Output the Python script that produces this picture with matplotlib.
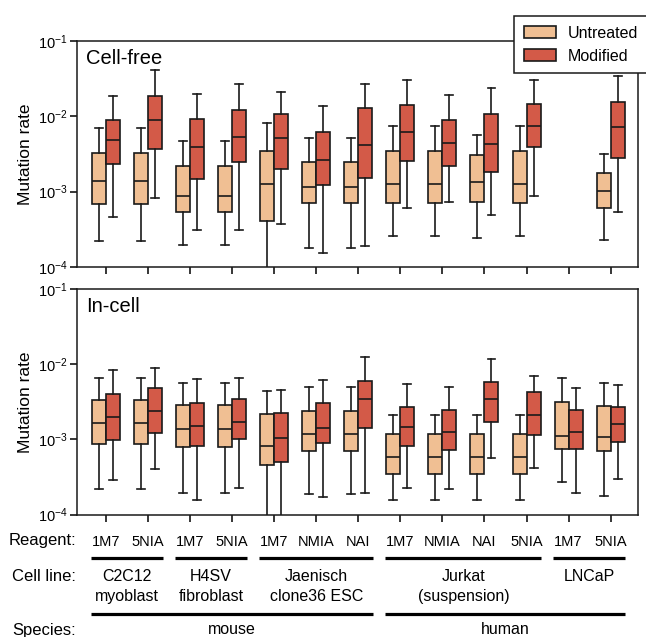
import matplotlib
matplotlib.use("Agg")
import matplotlib.pyplot as plt
import matplotlib.transforms as mtransforms
from matplotlib.lines import Line2D
from matplotlib.patches import Patch
from matplotlib.ticker import NullLocator

plt.rcParams['font.family'] = ['Liberation Sans', 'DejaVu Sans']

# x categories (one per reagent / cell line combination)
reagents = ['1M7', '5NIA', '1M7', '5NIA', '1M7', 'NMIA', 'NAI',
            '1M7', 'NMIA', 'NAI', '5NIA', '1M7', '5NIA']
cell_lines = ['C2C12\nmyoblast', 'H4SV\nfibroblast', 'Jaenisch\nclone36 ESC',
              'Jurkat\n(suspension)', 'LNCaP']
cell_line_spans = [(0, 1), (2, 3), (4, 6), (7, 10), (11, 12)]
species = ['mouse', 'human']
species_spans = [(0, 6), (7, 12)]

# box stats: (whisker low, q1, median, q3, whisker high)
cf_untreated = [
    (2.23e-4, 6.84e-4, 1.40e-3, 3.23e-3, 7.06e-3),
    (2.23e-4, 6.84e-4, 1.40e-3, 3.23e-3, 7.06e-3),
    (1.95e-4, 5.41e-4, 8.75e-4, 2.19e-3, 4.66e-3),
    (1.95e-4, 5.41e-4, 8.75e-4, 2.19e-3, 4.66e-3),
    (5.0e-5, 4.04e-4, 1.27e-3, 3.46e-3, 8.07e-3),
    (1.80e-4, 7.00e-4, 1.15e-3, 2.49e-3, 5.20e-3),
    (1.80e-4, 7.00e-4, 1.15e-3, 2.49e-3, 5.20e-3),
    (2.60e-4, 7.06e-4, 1.25e-3, 3.46e-3, 7.43e-3),
    (2.60e-4, 7.06e-4, 1.25e-3, 3.46e-3, 7.43e-3),
    (2.42e-4, 7.21e-4, 1.36e-3, 3.09e-3, 5.65e-3),
    (2.60e-4, 7.06e-4, 1.25e-3, 3.46e-3, 7.43e-3),
    None,
    (2.28e-4, 6.12e-4, 1.03e-3, 1.78e-3, 3.13e-3),
]
cf_modified = [
    (4.60e-4, 2.31e-3, 4.80e-3, 8.93e-3, 1.86e-2),
    (8.15e-4, 3.72e-3, 9.02e-3, 1.88e-2, 4.12e-2),
    (3.09e-4, 1.48e-3, 3.95e-3, 9.20e-3, 2.00e-2),
    (3.09e-4, 2.45e-3, 5.36e-3, 1.22e-2, 2.66e-2),
    (3.72e-4, 2.00e-3, 5.10e-3, 1.07e-2, 2.12e-2),
    (1.55e-4, 1.22e-3, 2.60e-3, 6.25e-3, 1.37e-2),
    (1.91e-4, 1.52e-3, 4.12e-3, 1.31e-2, 2.71e-2),
    (6.00e-4, 2.57e-3, 6.25e-3, 1.41e-2, 3.03e-2),
    (7.28e-4, 2.21e-3, 4.47e-3, 8.93e-3, 1.90e-2),
    (4.89e-4, 1.84e-3, 4.25e-3, 1.07e-2, 2.36e-2),
    (8.75e-4, 3.88e-3, 7.50e-3, 1.47e-2, 3.03e-2),
    None,
    (5.31e-4, 2.79e-3, 7.15e-3, 1.55e-2, 3.40e-2),
]
ic_untreated = [
    (2.17e-4, 8.63e-4, 1.63e-3, 3.33e-3, 6.45e-3),
    (2.17e-4, 8.63e-4, 1.63e-3, 3.33e-3, 6.45e-3),
    (1.94e-4, 7.96e-4, 1.38e-3, 2.88e-3, 5.60e-3),
    (1.94e-4, 7.96e-4, 1.38e-3, 2.88e-3, 5.60e-3),
    (5.0e-5, 4.49e-4, 8.27e-4, 2.17e-3, 4.43e-3),
    (1.85e-4, 6.97e-4, 1.16e-3, 2.38e-3, 4.91e-3),
    (1.85e-4, 6.97e-4, 1.16e-3, 2.38e-3, 4.91e-3),
    (1.58e-4, 3.44e-4, 5.79e-4, 1.16e-3, 2.08e-3),
    (1.58e-4, 3.44e-4, 5.79e-4, 1.16e-3, 2.08e-3),
    (1.58e-4, 3.44e-4, 5.79e-4, 1.16e-3, 2.08e-3),
    (1.58e-4, 3.44e-4, 5.79e-4, 1.16e-3, 2.08e-3),
    (2.72e-4, 7.33e-4, 1.10e-3, 3.10e-3, 6.53e-3),
    (1.77e-4, 6.97e-4, 1.07e-3, 2.80e-3, 5.66e-3),
]
ic_modified = [
    (2.86e-4, 9.87e-4, 1.98e-3, 4.00e-3, 8.34e-3),
    (4.00e-4, 1.23e-3, 2.35e-3, 4.75e-3, 8.98e-3),
    (1.58e-4, 8.20e-4, 1.50e-3, 3.06e-3, 6.40e-3),
    (2.28e-4, 1.01e-3, 1.71e-3, 3.43e-3, 6.59e-3),
    (5.0e-5, 4.97e-4, 1.05e-3, 2.21e-3, 4.57e-3),
    (1.73e-4, 9.00e-4, 1.41e-3, 3.01e-3, 6.08e-3),
    (1.96e-4, 1.41e-3, 3.40e-3, 6.00e-3, 1.24e-2),
    (2.22e-4, 8.20e-4, 1.48e-3, 2.71e-3, 5.38e-3),
    (2.19e-4, 7.11e-4, 1.25e-3, 2.47e-3, 4.91e-3),
    (5.62e-4, 1.68e-3, 3.43e-3, 5.71e-3, 1.17e-2),
    (4.18e-4, 1.15e-3, 2.10e-3, 4.21e-3, 6.95e-3),
    (1.96e-4, 7.55e-4, 1.25e-3, 2.47e-3, 4.81e-3),
    (3.01e-4, 9.08e-4, 1.59e-3, 2.71e-3, 5.27e-3),
]

c_untreated = '#F0BF93'
c_modified = '#D35A48'
edge = '#1a1a1a'
w = 0.333


def box_stats(rows):
    pos, stats = [], []
    for i, r in enumerate(rows):
        if r is None:
            continue
        lo, q1, med, q3, hi = r
        pos.append(i)
        stats.append(dict(whislo=lo, q1=q1, med=med, q3=q3, whishi=hi, fliers=[]))
    return pos, stats


def draw_panel(ax, untreated, modified, title):
    for rows, color, shift in [(untreated, c_untreated, -w / 2), (modified, c_modified, w / 2)]:
        pos, stats = box_stats(rows)
        ax.bxp(stats, positions=[p + shift for p in pos], widths=w, capwidths=0.19,
               patch_artist=True, showfliers=False, manage_ticks=False,
               boxprops=dict(facecolor=color, edgecolor=edge, linewidth=1.2),
               whiskerprops=dict(color=edge, linewidth=1.2),
               capprops=dict(color=edge, linewidth=1.2),
               medianprops=dict(color=edge, linewidth=1.2))
    ax.set_yscale('log')
    ax.set_ylim(1e-4, 1e-1)
    ax.set_yticks([1e-4, 1e-3, 1e-2, 1e-1])
    ax.yaxis.set_minor_locator(NullLocator())
    ax.set_xlim(-0.69, 12.65)
    ax.set_xticks(range(len(reagents)))
    ax.tick_params(axis='both', direction='out', length=5, width=1.1, labelsize=10.5)
    ax.tick_params(axis='y', pad=2)
    for s in ax.spines.values():
        s.set_linewidth(1.1)
        s.set_color(edge)
    ax.set_ylabel('Mutation rate', fontsize=12.5)
    ax.yaxis.set_label_coords(-0.078, 0.5)
    ax.text(0.016, 0.923, title, transform=ax.transAxes, fontsize=14.5, va='center', ha='left')


fig = plt.figure(figsize=(6.46, 6.37), dpi=100)
ax1 = fig.add_axes([0.1192, 0.5808, 0.8684, 0.3548])
ax2 = fig.add_axes([0.1192, 0.1923, 0.8684, 0.3540])

draw_panel(ax1, cf_untreated, cf_modified, 'Cell-free')
draw_panel(ax2, ic_untreated, ic_modified, 'In-cell')
ax1.set_xticklabels([])
ax2.set_xticklabels(reagents, fontsize=10.5)
ax2.tick_params(axis='x', pad=10)

# legend
handles = [Patch(facecolor=c_untreated, edgecolor=edge, linewidth=1.2, label='Untreated'),
           Patch(facecolor=c_modified, edgecolor=edge, linewidth=1.2, label='Modified')]
leg = fig.legend(handles=handles, loc='upper left', bbox_to_anchor=(514.3 / 646, 1 - 16 / 637),
                 fontsize=11.5, frameon=True, fancybox=False, framealpha=1, edgecolor=edge,
                 handlelength=2.0, handleheight=0.69, handletextpad=0.77, labelspacing=0.5,
                 borderpad=0.6, borderaxespad=0)
leg.get_frame().set_linewidth(1.1)

# annotation rows below the bottom panel
trans = mtransforms.blended_transform_factory(ax2.transData, fig.transFigure)
row_x = 76 / 646
fig.text(row_x, 1 - 540.7 / 637, 'Reagent:', ha='right', va='center', fontsize=12)
fig.text(row_x, 1 - 569 / 637, 'Cell line:', ha='right', va='top', fontsize=12)
fig.text(row_x, 1 - 630 / 637, 'Species:', ha='right', va='center', fontsize=12)

line1_y = 1 - 557.7 / 637
for name, (a, b) in zip(cell_lines, cell_line_spans):
    fig.add_artist(Line2D([a - 0.36, b + 0.35], [line1_y, line1_y], transform=trans,
                          color='black', linewidth=2.3, solid_capstyle='butt'))
    fig.text((a + b) / 2, 1 - 569 / 637, name, transform=trans, ha='center', va='top',
             fontsize=11.5, linespacing=1.4)

line2_y = 1 - 614.3 / 637
for name, (a, b) in zip(species, species_spans):
    fig.add_artist(Line2D([a - 0.36, b + 0.35], [line2_y, line2_y], transform=trans,
                          color='black', linewidth=2.3, solid_capstyle='butt'))
    fig.text((a + b) / 2, 1 - 630 / 637, name, transform=trans, ha='center', va='center',
             fontsize=11.5)

fig.savefig('out.png', dpi=100)
